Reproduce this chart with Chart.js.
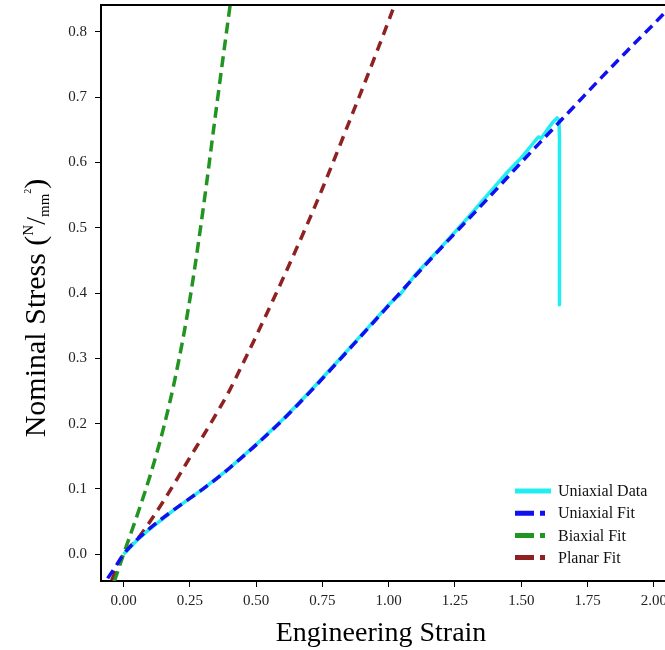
<!DOCTYPE html>
<html>
<head>
<meta charset="utf-8">
<script src="https://cdn.jsdelivr.net/npm/chart.js@4.4.1/dist/chart.umd.min.js"></script>
<style>
  html, body { margin: 0; padding: 0; background: #ffffff; }
  #wrap { width: 665px; height: 650px; }
</style>
</head>
<body>
<div id="wrap"><canvas id="c" width="665" height="650"></canvas></div>
<script>
// ---- data ----
const uniaxialDataStrain = [0, 0.05, 0.1, 0.2, 0.3, 0.4, 0.5, 0.6, 0.7, 0.8, 0.9, 1.0, 1.03, 1.04, 1.1, 1.2, 1.3, 1.4, 1.45, 1.5, 1.55, 1.565, 1.575, 1.6, 1.62, 1.635, 1.642, 1.644, 1.644];
const uniaxialDataStress = [0, 0.021, 0.039, 0.071, 0.100, 0.132, 0.168, 0.206, 0.248, 0.292, 0.337, 0.382, 0.394, 0.396, 0.428, 0.471, 0.516, 0.563, 0.586, 0.607, 0.632, 0.639, 0.637, 0.651, 0.662, 0.668, 0.665, 0.640, 0.382];

const uniaxialFitStrain = [-0.06, -0.03, 0, 0.05, 0.1, 0.15, 0.2, 0.25, 0.3, 0.35, 0.4, 0.45, 0.5, 0.6, 0.7, 0.8, 0.9, 1.0, 1.1, 1.2, 1.3, 1.4, 1.5, 1.6, 1.7, 1.8, 1.9, 2.0, 2.05];
const uniaxialFitStress = [-0.037, -0.019, 0, 0.022, 0.040, 0.056, 0.071, 0.0855, 0.100, 0.1155, 0.132, 0.1495, 0.1675, 0.2055, 0.247, 0.291, 0.336, 0.381, 0.426, 0.470, 0.513, 0.556, 0.600, 0.643, 0.686, 0.729, 0.771, 0.812, 0.833];

const biaxialFitStrain = [-0.035, 0, 0.05, 0.1, 0.15, 0.2, 0.25, 0.3, 0.35, 0.4, 0.42];
const biaxialFitStress = [-0.042, 0, 0.058, 0.12, 0.192, 0.28, 0.39, 0.528, 0.683, 0.835, 0.895];

const planarFitStrain = [-0.045, 0, 0.05, 0.1, 0.15, 0.2, 0.25, 0.3, 0.35, 0.4, 0.45, 0.5, 0.55, 0.6, 0.65, 0.7, 0.75, 0.8, 0.85, 0.9, 0.95, 1.0, 1.05];
const planarFitStress = [-0.04, 0, 0.022, 0.050, 0.081, 0.114, 0.148, 0.181, 0.215, 0.251, 0.292, 0.334, 0.377, 0.421, 0.466, 0.512, 0.560, 0.610, 0.661, 0.712, 0.764, 0.817, 0.872];

const seriesLabels = ['Uniaxial Data', 'Uniaxial Fit', 'Biaxial Fit', 'Planar Fit'];
const seriesColors = ['#22EEF2', '#1010F0', '#229422', '#8E2222'];

const xTitle = 'Engineering Strain';
const yTitleMain = 'Nominal Stress (';

function pts(xs, ys) { return xs.map((x, i) => ({ x: x, y: ys[i] })); }

const FONT = "'Liberation Serif', 'Times New Roman', serif";

const titlesPlugin = {
  id: 'titlesPlugin',
  afterDraw(chart) {
    const ctx = chart.ctx;
    const ca = chart.chartArea;
    ctx.save();
    // top border
    ctx.strokeStyle = '#000';
    ctx.lineWidth = 2;
    ctx.beginPath();
    ctx.moveTo(ca.left - 1, ca.top);
    ctx.lineTo(ca.right, ca.top);
    ctx.stroke();

    // x title
    ctx.fillStyle = '#000';
    ctx.font = '28px ' + FONT;
    ctx.textAlign = 'center';
    ctx.textBaseline = 'alphabetic';
    ctx.fillText(xTitle, 381, 641);

    // y title with super/subscripts
    ctx.translate(45, 308);
    ctx.rotate(-Math.PI / 2);
    const parts = [
      { t: yTitleMain, size: 30, dy: 0 },
      { t: 'N', size: 15, dy: -12 },
      { t: '/', size: 28, dy: 0 },
      { t: 'mm', size: 15, dy: 4 },
      { t: '2', size: 10, dy: -14 },
      { t: ')', size: 30, dy: 0 }
    ];
    let total = 0;
    const widths = parts.map(p => { ctx.font = p.size + 'px ' + FONT; const w = ctx.measureText(p.t).width; total += w; return w; });
    let x = -total / 2;
    ctx.textAlign = 'left';
    parts.forEach((p, i) => {
      ctx.font = p.size + 'px ' + FONT;
      ctx.fillText(p.t, x, p.dy);
      x += widths[i];
    });
    ctx.restore();

    // legend
    ctx.save();
    const lx0 = 515, lx1 = 551, tx = 558, y0 = 491, dyRow = 22.2;
    seriesLabels.forEach((lab, i) => {
      const y = y0 + i * dyRow;
      ctx.strokeStyle = seriesColors[i];
      ctx.lineWidth = 5;
      ctx.lineCap = 'butt';
      ctx.setLineDash(i === 0 ? [] : [19, 6]);
      ctx.beginPath();
      ctx.moveTo(lx0, y);
      ctx.lineTo(i === 0 ? lx1 : lx1 - 6, y);
      ctx.stroke();
      ctx.setLineDash([]);
      ctx.fillStyle = '#111';
      ctx.font = '16px ' + FONT;
      ctx.textAlign = 'left';
      ctx.textBaseline = 'middle';
      ctx.fillText(lab, tx, y + 1);
    });
    ctx.restore();
  }
};

const ctx = document.getElementById('c').getContext('2d');
new Chart(ctx, {
  type: 'scatter',
  data: {
    datasets: [
      {
        label: seriesLabels[0], data: pts(uniaxialDataStrain, uniaxialDataStress),
        showLine: true, borderColor: seriesColors[0], borderWidth: 3.5, pointRadius: 0,
        tension: 0, order: 1, borderJoinStyle: 'round'
      },
      {
        label: seriesLabels[1], data: pts(uniaxialFitStrain, uniaxialFitStress),
        showLine: true, borderColor: seriesColors[1], borderWidth: 3.5, pointRadius: 0,
        borderDash: [10, 6], cubicInterpolationMode: 'monotone', order: 0
      },
      {
        label: seriesLabels[2], data: pts(biaxialFitStrain, biaxialFitStress),
        showLine: true, borderColor: seriesColors[2], borderWidth: 3.5, pointRadius: 0,
        borderDash: [11, 6], cubicInterpolationMode: 'monotone', order: 2
      },
      {
        label: seriesLabels[3], data: pts(planarFitStrain, planarFitStress),
        showLine: true, borderColor: seriesColors[3], borderWidth: 3.5, pointRadius: 0,
        borderDash: [10, 7], cubicInterpolationMode: 'monotone', order: 3
      }
    ]
  },
  options: {
    responsive: false,
    animation: false,
    devicePixelRatio: 1,
    layout: { padding: { top: 5, right: 0, left: 0, bottom: 0 } },
    plugins: { legend: { display: false }, tooltip: { enabled: false } },
    scales: {
      x: {
        type: 'linear', min: -0.085, max: 2.042,
        grid: { display: true, drawOnChartArea: false, drawTicks: true, tickLength: 6, color: '#000', lineWidth: 1 },
        border: { display: true, color: '#000', width: 2 },
        ticks: { stepSize: 0.25, includeBounds: false, padding: 5, color: '#222', font: { family: FONT, size: 15 },
          callback: v => Number(v).toFixed(2), maxRotation: 0, autoSkip: false },
        afterFit: s => { s.height = 69; s.paddingLeft = 0; s.paddingRight = 0; }
      },
      y: {
        type: 'linear', min: -0.041, max: 0.841,
        grid: { display: true, drawOnChartArea: false, drawTicks: true, tickLength: 6, color: '#000', lineWidth: 1 },
        border: { display: true, color: '#000', width: 2 },
        ticks: { stepSize: 0.1, includeBounds: false, padding: 8, color: '#222', font: { family: FONT, size: 15 },
          callback: v => Number(v).toFixed(1), autoSkip: false },
        afterFit: s => { s.width = 101; s.paddingTop = 0; s.paddingBottom = 0; }
      }
    }
  },
  plugins: [titlesPlugin]
});
</script>
</body>
</html>
